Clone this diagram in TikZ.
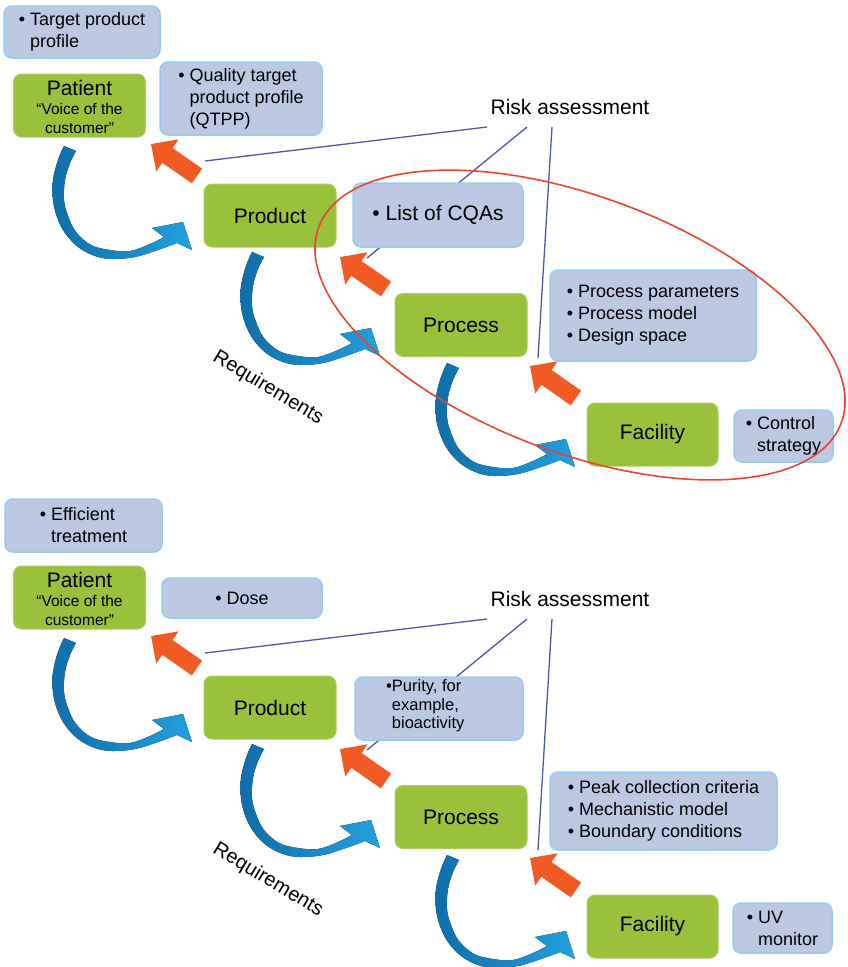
\documentclass[tikz,border=0pt]{standalone}
\usepackage{fontspec}
\setmainfont{Liberation Sans}
\usetikzlibrary{arrows.meta}
\definecolor{gfill}{RGB}{153,193,60}
\definecolor{gline}{RGB}{172,206,92}
\definecolor{bfill}{RGB}{189,200,226}
\definecolor{bline}{RGB}{150,205,238}
\definecolor{orng}{RGB}{240,90,35}
\definecolor{bdark}{RGB}{14,110,170}
\definecolor{blight}{RGB}{34,160,222}
\definecolor{rline}{RGB}{78,88,168}
\definecolor{ered}{RGB}{232,70,45}
\begin{document}
\begin{tikzpicture}[x=1pt,y=-1pt,
  gbox/.style={draw=gline, line width=1pt, fill=gfill, rounded corners=8pt, inner sep=0pt,
    minimum width=132pt, minimum height=63pt, font=\fontsize{21}{24}\selectfont},
  bbox/.style={draw=bline, line width=1.5pt, fill=bfill, rounded corners=8pt, inner sep=0pt},
  ltxt/.style={align=left, font=\fontsize{18}{22}\selectfont},
  bigtxt/.style={inner sep=0pt, font=\fontsize{21}{24}\selectfont},
  rl/.style={draw=rline, line width=1.3pt},
  orarrow/.style={draw=orng, line width=18pt, -{Triangle[length=20pt,width=38pt]}},
  bluearrow/.pic={
    \fill[left color=bdark, right color=blight]
      plot[smooth, tension=0.6] coordinates {(64,146) (58,160) (53,180) (53,200) (57,217) (65,233)
        (78,247) (95,256) (112,259) (135,257) (158,250) (177,243)}
      -- (192,250) -- (183,222) -- (152,228)
      -- plot[smooth, tension=0.6] coordinates {(164,237) (150,244) (130,251) (110,250) (91,245)
        (76,232) (68,216) (64,200) (65,180) (70,163) (76,151)}
      -- cycle;
  }
]
\useasboundingbox (0,0) rectangle (847,967);

\foreach \dy/\s in {0/a,492/b}{
\begin{scope}[shift={(0,\dy)}]
  % risk assessment label and its lines
  \node[bigtxt] (risk\s) at (570,107) {Risk assessment};
  \coordinate (rs1\s) at (487,127);
  \coordinate (rs2\s) at (527,127);
  \coordinate (rs3\s) at (552,127);
  \coordinate (re1\s) at (205,161);
  \coordinate (re2\s) at (367,258);
  \coordinate (re3\s) at (538,358);
  \draw[rl] (rs1\s) -- (re1\s);
  \draw[rl] (rs2\s) -- (re2\s);
  \draw[rl] (rs3\s) -- (re3\s);
  % blue curved arrows
  \pic at (0,0) {bluearrow};
  \pic at (188,106) {bluearrow};
  \pic at (383,217) {bluearrow};
  % orange arrows
  \coordinate (oat1\s) at (197,176); \coordinate (oah1\s) at (151,144);
  \coordinate (oat2\s) at (386,289); \coordinate (oah2\s) at (340,257);
  \coordinate (oat3\s) at (576,398); \coordinate (oah3\s) at (530,366);
  \draw[orarrow] (oat1\s) -- (oah1\s);
  \draw[orarrow] (oat2\s) -- (oah2\s);
  \draw[orarrow] (oat3\s) -- (oah3\s);
  % green boxes
  \node[gbox] (pat\s) at (79.5,105.5) {};
  \node[bigtxt] (patt\s) at (79.5,88) {Patient};
  \node[inner sep=0pt, align=center, font=\fontsize{15.5}{19}\selectfont] (voc\s) at (79.5,118.5) {“Voice of the\\customer”};
  \node[gbox] (prod\s) at (270,215.5) {Product};
  \node[gbox] (proc\s) at (461,325) {Process};
  \node[gbox, minimum width=131pt] (fac\s) at (652.5,434.5) {Facility};
  % requirements label
  \node[rotate=-31, inner sep=0pt, font=\fontsize{20}{22}\selectfont] (req\s) at (268,388) {Requirements};
\end{scope}
}

% ---- top half boxes ----
\node[bbox, ltxt, minimum width=156pt, minimum height=52pt] (tpp) at (82,32) {• Target product\\\hphantom{• }profile};
\node[bbox, ltxt, minimum width=162pt, minimum height=73pt] (qtpp) at (241,98.5) {• Quality target\\\hphantom{• }product profile\\\hphantom{• }(QTPP)};
\node[bbox, align=left, font=\fontsize{21}{24}\selectfont, minimum width=170pt, minimum height=64pt] (cqa) at (438,215) {• List of CQAs};
\node[bbox, ltxt, minimum width=206pt, minimum height=91pt] (pp) at (653,315.5) {• Process parameters\\• Process model\\• Design space};
\node[bbox, ltxt, minimum width=99pt, minimum height=52pt] (cs) at (783.5,436) {• Control\\\hphantom{• }strategy};

% ---- bottom half boxes ----
\node[bbox, ltxt, minimum width=157pt, minimum height=53pt] (eff) at (83.5,525.5) {• Efficient\\\hphantom{• }treatment};
\node[bbox, ltxt, minimum width=160pt, minimum height=40pt] (dose) at (242,598) {• Dose};
\node[bbox, minimum width=168pt, minimum height=63pt] (pur) at (439,708.5) {};
\node[anchor=west, inner sep=0pt, align=left, font=\fontsize{16.5}{18.5}\selectfont] (purt) at (386,706) {•Purity, for\\\hphantom{•}example,\\\hphantom{•}bioactivity};
\node[bbox, ltxt, minimum width=227pt, minimum height=78pt] (peak) at (663.5,811) {• Peak collection criteria\\• Mechanistic model\\• Boundary conditions};
\node[bbox, ltxt, minimum width=99pt, minimum height=50pt] (uv) at (782.5,928) {• UV\\\hphantom{• }monitor};

% ---- red ellipse ----
\draw[ered, line width=1.6pt, rotate around={-20.6:(580,325)}] (580,325) ellipse [x radius=279, y radius=128];
\end{tikzpicture}
\end{document}
